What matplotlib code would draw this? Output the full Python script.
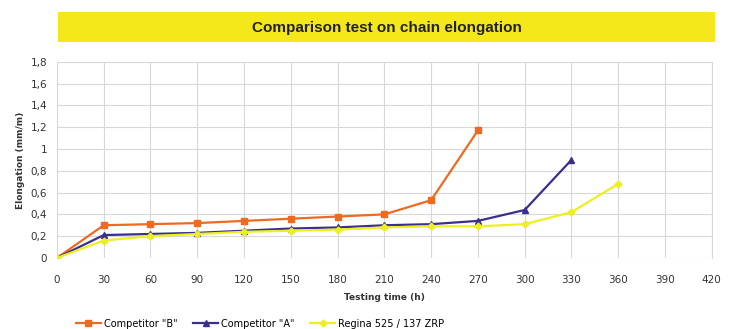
import numpy as np
import matplotlib.pyplot as plt
from matplotlib.ticker import FuncFormatter

# Data
hours_b = [0, 30, 60, 90, 120, 150, 180, 210, 240, 270]
comp_b = [0, 0.30, 0.31, 0.32, 0.34, 0.36, 0.38, 0.40, 0.53, 1.17]

hours_a = [0, 30, 60, 90, 120, 150, 180, 210, 240, 270, 300, 330]
comp_a = [0, 0.21, 0.22, 0.23, 0.25, 0.27, 0.28, 0.30, 0.31, 0.34, 0.44, 0.90]

hours_r = [0, 30, 60, 90, 120, 150, 180, 210, 240, 270, 300, 330, 360]
regina = [0, 0.16, 0.20, 0.22, 0.24, 0.25, 0.26, 0.28, 0.29, 0.29, 0.31, 0.42, 0.68]

x_ticks = np.arange(0, 421, 30)
y_ticks = np.arange(0, 1.81, 0.2)

fig = plt.figure(figsize=(7.3, 3.29), dpi=100)
ax = fig.add_axes([0.078, 0.216, 0.897, 0.596])

# Title banner
fig.patches.append(plt.Rectangle((0.079, 0.872), 0.901, 0.091, transform=fig.transFigure,
                                 facecolor='#f5e81a', edgecolor='none', zorder=0))
fig.text(0.53, 0.915, 'Comparison test on chain elongation', ha='center', va='center',
         fontsize=11, fontweight='bold', color='#222222', family='Liberation Sans')

ax.plot(hours_b, comp_b, color='#ee6a1f', marker='s', markersize=4, lw=1.6,
        label='Competitor "B"')
ax.plot(hours_a, comp_a, color='#3a2f8f', marker='^', markersize=4, lw=1.6,
        label='Competitor "A"')
ax.plot(hours_r, regina, color='#eef01e', marker='D', markersize=3.5, lw=1.6,
        label='Regina 525 / 137 ZRP')

ax.set_xlim(0, 420)
ax.set_ylim(0, 1.8)
ax.set_xticks(x_ticks)
ax.set_yticks(y_ticks)
ax.yaxis.set_major_formatter(FuncFormatter(lambda v, p: ('%g' % round(v, 1)).replace('.', ',')))
ax.grid(True, color='#d8d8d8', lw=0.8)
ax.set_axisbelow(True)
for s in ['top', 'left', 'bottom']:
    ax.spines[s].set_visible(False)
ax.spines['right'].set_color('#d8d8d8')
ax.tick_params(length=0, labelsize=7.5, colors='#333333')
ax.tick_params(axis='x', pad=12)
ax.tick_params(axis='y', pad=7)

ax.set_xlabel('Testing time (h)', fontsize=6.5, fontweight='bold', color='#333333', labelpad=6)
ax.set_ylabel('Elongation (mm/m)', fontsize=6.5, fontweight='bold', color='#333333', labelpad=4)

ax.legend(loc='upper left', bbox_to_anchor=(0.015, -0.265), ncol=3, frameon=False,
          fontsize=7, handlelength=2.6, columnspacing=1.6, handletextpad=0.3)

fig.savefig('out.png', dpi=100, facecolor='white')
